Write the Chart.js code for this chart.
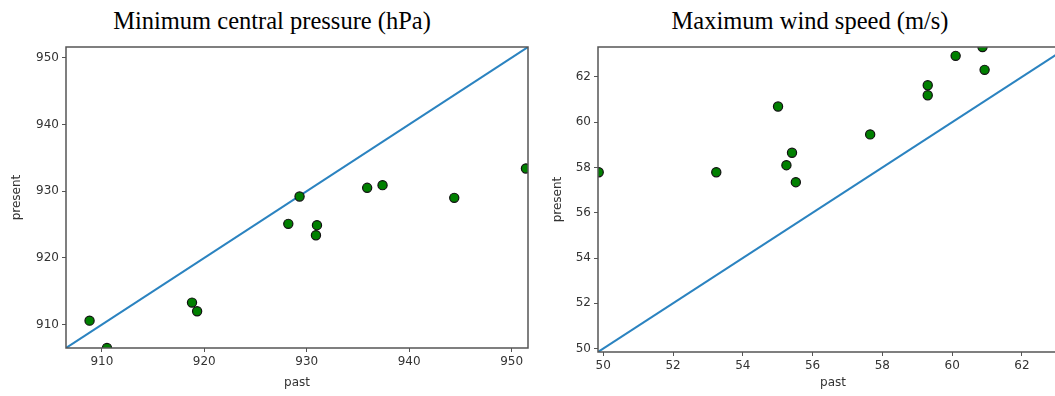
<!DOCTYPE html>
<html>
<head>
<meta charset="utf-8">
<script src="https://cdn.jsdelivr.net/npm/chart.js@4"></script>
<style>
  body { margin: 0; width: 1055px; height: 396px; overflow: hidden; background: #fff; position: relative; }
  canvas { position: absolute; top: 0; }
  #c1 { left: 0; }
  #c2 { left: 532px; }
  .title { position: absolute; top: 7px; font-family: "Liberation Serif", serif; font-size: 24.5px; color: #000; white-space: nowrap; transform: translateX(-50%); }
</style>
</head>
<body>
<div class="title" style="left:272px">Minimum central pressure (hPa)</div>
<div class="title" style="left:810px">Maximum wind speed (m/s)</div>
<canvas id="c1" width="540" height="396"></canvas>
<canvas id="c2" width="560" height="396"></canvas>
<script>
// minimum central pressure, hPa
var pressurePast    = [908.8, 910.5, 918.8, 919.3, 928.2, 929.3, 930.9, 931.0, 935.9, 937.4, 944.4, 951.4]
var pressurePresent = [910.6, 906.5, 913.3, 912.0, 925.1, 929.2, 923.4, 924.9, 930.5, 930.9, 929.0, 933.4]
var pressureTicks   = [910, 920, 930, 940, 950]
var pressureRange   = [906.5, 951.6]

// maximum wind speed, m/s
var windPast    = [49.87, 53.24, 55.01, 55.25, 55.41, 55.52, 57.65, 59.30, 59.30, 60.10, 60.87, 60.93]
var windPresent = [57.79, 57.79, 60.69, 58.10, 58.65, 57.35, 59.46, 61.63, 61.19, 62.93, 63.32, 62.31]
var windTicks   = [50, 52, 54, 56, 58, 60, 62]
var windRange   = [49.85, 63.32]

var frame = {
  id: 'frame',
  afterDatasetsDraw: function(chart) {
    var a = chart.chartArea
    var ctx = chart.ctx
    ctx.save()
    ctx.strokeStyle = '#555'
    ctx.lineWidth = 1.5
    ctx.strokeRect(a.left, a.top, a.right - a.left, a.bottom - a.top)
    ctx.restore()
  }
}

function axis(label, ticks, range, size, titlePad) {
  return {
    type: 'linear',
    min: range[0],
    max: range[1],
    afterBuildTicks: function(s) { s.ticks = ticks.map(function(v) { return { value: v } }) },
    afterFit: function(s) { if (s.isHorizontal()) s.height = size; else s.width = size },
    border: { display: false },
    grid: { drawOnChartArea: false, drawTicks: true, tickLength: 4, color: '#555', tickWidth: 1 },
    ticks: { color: '#333', padding: 3, font: { family: 'DejaVu Sans', size: 12 } },
    title: { display: true, text: label, color: '#333', padding: titlePad, font: { family: 'DejaVu Sans', size: 12 } }
  }
}

function draw(id, past, present, ticks, range, pad, xh, ytitle) {
  var pts = past.map(function(v, i) { return { x: v, y: present[i] } })
  new Chart(document.getElementById(id), {
    type: 'scatter',
    data: {
      datasets: [{
        data: pts,
        backgroundColor: '#008000',
        borderColor: '#111',
        borderWidth: 1.2,
        pointRadius: 4.6,
        clip: 0
      }, {
        type: 'line',
        data: [{ x: range[0], y: range[0] }, { x: range[1], y: range[1] }],
        borderColor: '#2b83c0',
        borderWidth: 2,
        pointRadius: 0,
        clip: 0
      }]
    },
    options: {
      responsive: false,
      animation: false,
      devicePixelRatio: 1,
      layout: { padding: pad },
      plugins: { legend: { display: false }, tooltip: { enabled: false } },
      scales: {
        x: axis('past', ticks, range, xh, { top: 0, bottom: 6 }),
        y: axis('present', ticks, range, 66, { top: ytitle, bottom: 0 })
      }
    },
    plugins: [frame]
  })
}

draw('c1', pressurePast, pressurePresent, pressureTicks, pressureRange, { top: 47, right: 12, bottom: 0, left: 0 }, 48, 10)
draw('c2', windPast, windPresent, windTicks, windRange, { top: 47, right: 24, bottom: 0, left: 0 }, 44, 19)
</script>
</body>
</html>
